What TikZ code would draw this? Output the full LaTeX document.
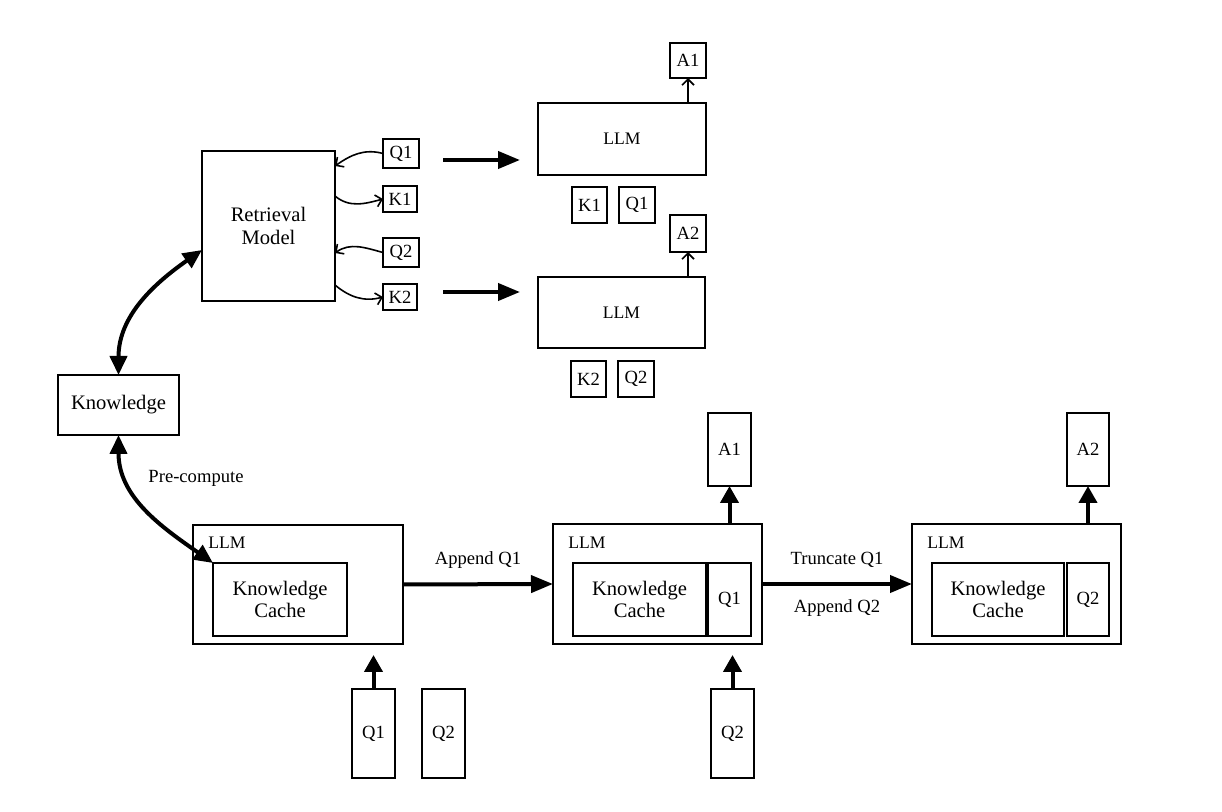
\documentclass[tikz,border=0pt]{standalone}
\usepackage{fontspec}
\setmainfont{Liberation Serif}
\usetikzlibrary{arrows.meta}
\begin{document}
\begin{tikzpicture}[x=0.5pt,y=-0.5pt,
  box/.style={draw,line width=1pt,inner sep=0pt,outer sep=0pt,align=center,font=\fontsize{9.3}{11}\selectfont},
  bigtxt/.style={font=\fontsize{10.3}{11.3}\selectfont},
  sz/.style 2 args={minimum width=#1*0.5pt,minimum height=#2*0.5pt},
  lbl/.style={inner sep=0pt,font=\fontsize{9.3}{11}\selectfont},
  llmlbl/.style={inner sep=0pt,anchor=west,font=\fontsize{8.8}{10}\selectfont},
  thin/.style={line width=0.8pt,-{Straight Barb[length=3pt,width=6pt]}},
  fat/.style={line width=2pt,-{Triangle[length=11pt,width=8.5pt]}},
  fatv/.style={line width=2pt,-{Triangle[length=8.5pt,width=9pt]}},
  dbl/.style={line width=2pt,{Triangle[length=9.5pt,width=8.5pt]}-{Triangle[length=9.5pt,width=8.5pt]}}
]
\path (0,0) rectangle (1222,812);

% top part
\node[box,bigtxt,sz={133}{150}] (ret) at (268.5,226) {Retrieval\\Model};
\node[box,sz={36}{29}] (q1s) at (401,153.5) {Q1};
\node[box,sz={34}{26}] (k1s) at (400,199) {K1};
\node[box,sz={36}{29}] (q2s) at (401,252.5) {Q2};
\node[box,sz={34}{26}] (k2s) at (400,297) {K2};

\node[box,sz={168}{72},font=\fontsize{8.8}{10}\selectfont] (llm1) at (622,139) {LLM};
\node[box,sz={36}{35}] (a1t) at (688,60.5) {A1};
\node[box,sz={35}{36}] (k1b) at (589.5,205) {K1};
\node[box,sz={36}{36}] (q1b) at (637,205) {Q1};
\node[box,sz={36}{37}] (a2t) at (688,233.5) {A2};
\node[box,sz={167}{71},font=\fontsize{8.8}{10}\selectfont] (llm2) at (621.5,312.5) {LLM};
\node[box,sz={35}{36}] (k2b) at (588.5,379) {K2};
\node[box,sz={36}{36}] (q2b) at (636,379) {Q2};

\node[box,bigtxt,sz={121}{60}] (know) at (118.5,405) {Knowledge};

% curves to/from retrieval model
\draw[thin] (q1s.west) to[out=165,in=35] ([yshift=30pt]ret.east);
\draw[thin] ([yshift=15pt]ret.east) to[out=-40,in=195] (k1s.west);
\draw[thin] (q2s.west) to[out=165,in=35] ([yshift=-13.5pt]ret.east);
\draw[thin] ([yshift=-29.5pt]ret.east) to[out=-40,in=195] (k2s.west);

\coordinate (t1s) at (443,160); \coordinate (t1e) at (520,160);
\coordinate (t2s) at (443,292); \coordinate (t2e) at (520,292);
\draw[fat] (t1s) -- (t1e);
\draw[fat] (t2s) -- (t2e);

\draw[thin] (llm1.north -| a1t) -- (a1t.south);
\draw[thin] (llm2.north -| a2t) -- (a2t.south);

% bottom part
\node[box,sz={210}{119}] (blm) at (298,584.5) {};
\node[box,bigtxt,sz={134}{73}] (kc1) at (280,599.5) {Knowledge\\Cache};
\node[llmlbl] at (208,543) {LLM};

\node[box,sz={209}{120}] (mlm) at (657.5,584) {};
\node[box,bigtxt,sz={133}{73}] (kc2) at (639.5,599.5) {Knowledge\\Cache};
\node[box,sz={43}{73}] (q1in) at (729.5,599.5) {Q1};
\node[llmlbl] at (568,543) {LLM};
\node[box,sz={43}{73}] (a1b) at (729.5,449.5) {A1};

\node[box,sz={209}{120}] (rlm) at (1016.5,584) {};
\node[box,bigtxt,sz={132}{73}] (kc3) at (998,599.5) {Knowledge\\Cache};
\node[box,sz={42}{73}] (q2in) at (1088,599.5) {Q2};
\node[llmlbl] at (927,543) {LLM};
\node[box,sz={42}{73}] (a2b) at (1088,449.5) {A2};

\node[box,sz={43}{89}] (q1q) at (373.5,733.5) {Q1};
\node[box,sz={43}{89}] (q2q) at (443.5,733.5) {Q2};
\node[box,sz={43}{89}] (q2m) at (732.5,733.5) {Q2};

% arrows bottom
\draw[dbl] (know.north) to[out=90,in=215] ([yshift=-12pt]ret.west);
\draw[dbl] (know.south) to[out=-90,in=145] (kc1.north west);
\node[lbl] at (196,478) {Pre-compute};

\draw[fat] (blm.east) -- node[lbl,above=7pt] {Append Q1} (mlm.west);
\draw[fat] (mlm.east) -- node[lbl,above=7pt] {Truncate Q1} node[lbl,below=7pt] {Append Q2} (rlm.west);

\draw[fatv] (mlm.north -| a1b) -- (a1b.south);
\draw[fatv] (rlm.north -| a2b) -- (a2b.south);
\draw[fatv,shorten >=5.5pt] (q1q.north) -- (blm.south -| q1q.north);
\draw[fatv,shorten >=5.5pt] (q2m.north) -- (mlm.south -| q2m.north);
\end{tikzpicture}
\end{document}
